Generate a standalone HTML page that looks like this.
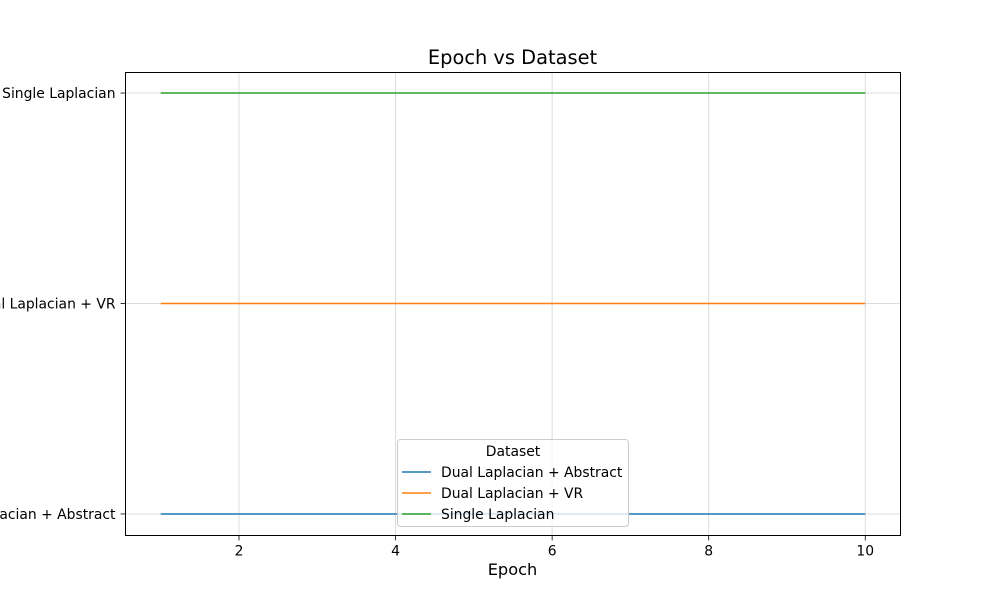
<!DOCTYPE html>
<html>
<head>
<meta charset="utf-8">
<style>
  body { margin:0; background:#fff; }
  svg { display:block; font-family:"DejaVu Sans","Liberation Sans",sans-serif; }
</style>
</head>
<body>
<svg id="chart" width="1000" height="600" viewBox="0 0 1000 600">
  <rect x="0" y="0" width="1000" height="600" fill="#fff"/>
  <text x="512.5" y="64" text-anchor="middle" font-size="19.4" fill="#000">Epoch vs Dataset</text>
  <g id="grid"></g>
  <g id="series"></g>
  <rect x="125.5" y="72.5" width="775" height="463" fill="none" stroke="#000" stroke-width="1"/>
  <g id="xticks"></g>
  <g id="yticks"></g>
  <text x="512.5" y="575" text-anchor="middle" font-size="16.2" fill="#000">Epoch</text>
  <g id="legend"></g>
</svg>
<script>
const categories = ["Dual Laplacian + Abstract", "Dual Laplacian + VR", "Single Laplacian"];
const epochs = [1, 2, 3, 4, 5, 6, 7, 8, 9, 10];
const seriesAbstract = [0, 0, 0, 0, 0, 0, 0, 0, 0, 0];
const seriesVR = [1, 1, 1, 1, 1, 1, 1, 1, 1, 1];
const seriesSingle = [2, 2, 2, 2, 2, 2, 2, 2, 2, 2];
const xTickValues = [2, 4, 6, 8, 10];
const seriesNames = ["Dual Laplacian + Abstract", "Dual Laplacian + VR", "Single Laplacian"];
const colors = ["#1f77b4", "#ff7f0e", "#2ca02c"];

const NS = "http://www.w3.org/2000/svg";
const L = 125.5, R = 900.5, T = 72.5, B = 535.5;
const allX = epochs;
const xmin = Math.min(...allX), xmax = Math.max(...allX);
const xpad = (xmax - xmin) * 0.05;
const X = v => L + (v - (xmin - xpad)) / ((xmax + xpad) - (xmin - xpad)) * (R - L);
const ymin = 0, ymax = categories.length - 1;
const ypad = (ymax - ymin) * 0.05;
const Y = v => B - (v - (ymin - ypad)) / ((ymax + ypad) - (ymin - ypad)) * (B - T);

function mk(tag, attrs, parent) {
  const e = document.createElementNS(NS, tag);
  for (const k in attrs) e.setAttribute(k, attrs[k]);
  parent.appendChild(e);
  return e;
}
const grid = document.getElementById("grid");
const xt = document.getElementById("xticks");
const yt = document.getElementById("yticks");

xTickValues.forEach(v => {
  const x = X(v);
  const g = mk("line", {x1:x, x2:x, y1:T, y2:B, stroke:"#dcdcdc", "stroke-width":1}, grid);
  
  
  const t = mk("line", {x1:x, x2:x, y1:B, y2:B+4.9, stroke:"#000", "stroke-width":0.8}, xt);
  
  
  const l = mk("text", {x:x, y:B+20, "text-anchor":"middle", "font-size":13.9, fill:"#000"}, xt);
  l.textContent = v;
  
  
});
categories.forEach((c, i) => {
  const y = Y(i) - 0.5;
  const g = mk("line", {x1:L, x2:R, y1:y, y2:y, stroke:"#dcdcdc", "stroke-width":1}, grid);
  
  
  const t = mk("line", {x1:L-4.9, x2:L, y1:y, y2:y, stroke:"#000", "stroke-width":0.8}, yt);
  
  
  const l = mk("text", {x:L-10, y:y+5, "text-anchor":"end", "font-size":13.9, fill:"#000"}, yt);
  l.textContent = c;
  
  
});

const seriesData = [seriesAbstract, seriesVR, seriesSingle];
const sg = document.getElementById("series");
seriesData.forEach((vals, s) => {
  const pts = vals.map((v, i) => X(epochs[i]) + "," + (Y(v) - 0.5)).join(" ");
  const p = mk("polyline", {points:pts, fill:"none", stroke:colors[s], "stroke-width":1.5}, sg);
  
  
});

const lg = document.getElementById("legend");
const box = mk("rect", {x:397.5, y:439.5, width:231, height:87, rx:3, fill:"#fff", "fill-opacity":0.8, stroke:"#ccc"}, lg);


const lt = mk("text", {x:513, y:456, "text-anchor":"middle", "font-size":13.9, fill:"#000"}, lg);
lt.textContent = "Dataset";


seriesNames.forEach((n, i) => {
  const y = 472 + i * 21;
  const ln = mk("line", {x1:402, x2:431, y1:y, y2:y, stroke:colors[i], "stroke-width":1.5}, lg);
  
  
  const tx = mk("text", {x:441, y:y+5, "font-size":13.9, fill:"#000"}, lg);
  tx.textContent = n;
  
  
});
</script>
</body>
</html>
